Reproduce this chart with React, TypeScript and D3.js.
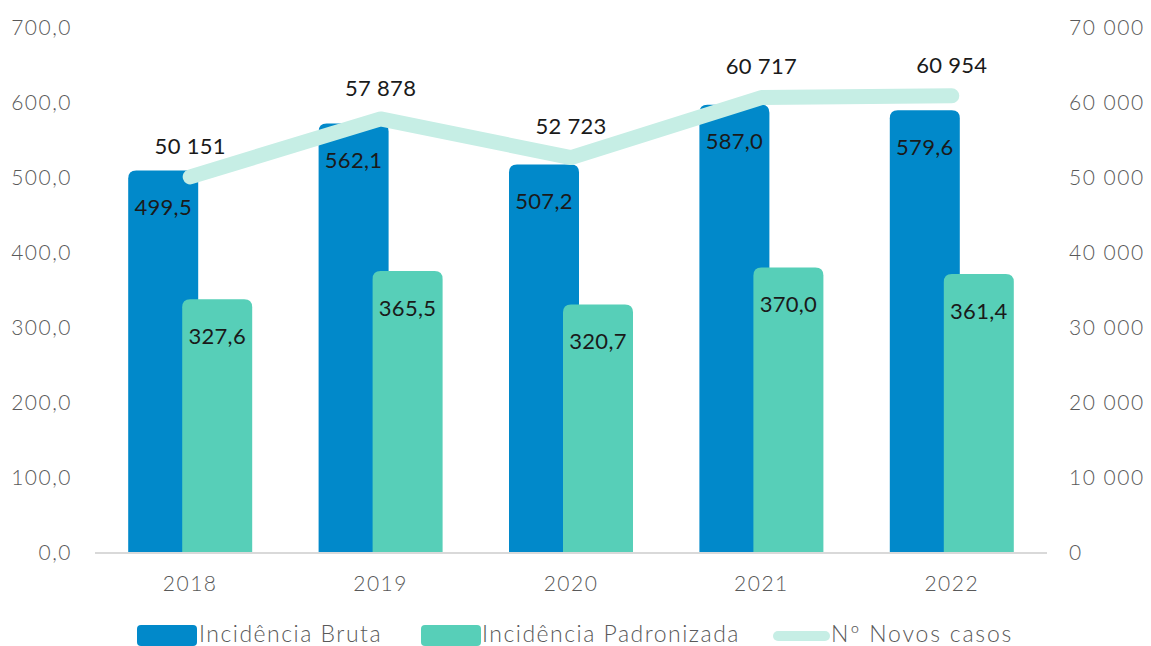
import React from "react";
import * as d3 from "d3";

const years = ["2018", "2019", "2020", "2021", "2022"];
const brutaValues = [499.5, 562.1, 507.2, 587.0, 579.6];
const padronizadaValues = [327.6, 365.5, 320.7, 370.0, 361.4];
const novosCasos = [50151, 57878, 52723, 60717, 60954];
const leftTicks = [0, 100, 200, 300, 400, 500, 600, 700];
const rightTicks = [0, 10000, 20000, 30000, 40000, 50000, 60000, 70000];
const legendLabels = ["Incidência Bruta", "Incidência Padronizada", "Nº Novos casos"];

const W = 1151;
const H = 646;
const FONT = "Lato, 'Open Sans', sans-serif";
const BLUE = "#0189CA";
const GREEN = "#57CFB8";
const LINE = "#C6EEE5";
const GRAY = "#595959";

const fmtDec = (v: number) => v.toFixed(1).replace(".", ",");
const fmtThousands = (v: number) =>
  String(Math.round(v)).replace(/\B(?=(\d{3})+(?!\d))/g, " ");

function roundedTopPath(x: number, y: number, w: number, h: number, r: number) {
  return `M${x},${y + h}V${y + r}Q${x},${y} ${x + r},${y}H${x + w - r}Q${x + w},${y} ${x + w},${y + r}V${y + h}Z`;
}

export default function App() {
  const plotLeft = 95;
  const plotRight = 1047;
  const yTop = 28;
  const yBottom = 553;

  const x = d3.scaleBand<string>().domain(years).range([plotLeft, plotRight]).padding(0);
  const yL = d3.scaleLinear().domain([0, 700]).range([yBottom, yTop]);
  const yR = d3.scaleLinear().domain([0, 70000]).range([yBottom, yTop]);
  const center = (yr: string) => (x(yr) as number) + x.bandwidth() / 2;

  const barW = 70;
  const blueOff = -62;
  const greenOff = -8;
  const capExtra = 8;
  const radius = 8;

  const line = d3
    .line<number>()
    .x((_, i) => center(years[i]))
    .y((d) => yR(d));

  const gray = { fontFamily: FONT, fontSize: 21, fill: GRAY, fontWeight: 300, letterSpacing: 1.5 } as const;
  const dark = { fontFamily: FONT, fontSize: 22, fill: "#1a1a1a", fontWeight: 400, letterSpacing: 0.3 } as const;

  return (
    <svg width={W} height={H} style={{ position: "absolute", left: 0, top: 0, background: "#fff" }}>
      {leftTicks.map((t) => (
        <text key={"l" + t} x={72} y={yL(t)} dy="0.35em" textAnchor="end" {...gray}>
          {fmtDec(t)}
        </text>
      ))}
      {rightTicks.map((t) => (
        <text key={"r" + t} x={1069} y={yR(t)} dy="0.35em" textAnchor="start" {...gray}>
          {fmtThousands(t)}
        </text>
      ))}
      {years.map((yr, i) => {
        const bx = center(yr) + blueOff;
        const by = yL(brutaValues[i]) - capExtra;
        return <path key={"b" + yr} d={roundedTopPath(bx, by, barW, yBottom - by, radius)} fill={BLUE} />;
      })}
      {years.map((yr, i) => {
        const bx = center(yr) + greenOff;
        const by = yL(padronizadaValues[i]) - capExtra;
        return <path key={"g" + yr} d={roundedTopPath(bx, by, barW, yBottom - by, radius)} fill={GREEN} />;
      })}
      <line x1={plotLeft} x2={plotRight} y1={yBottom} y2={yBottom} stroke="#D9D9D9" strokeWidth={2} />
      <path d={line(novosCasos) || ""} fill="none" stroke={LINE} strokeWidth={15} strokeLinecap="round" strokeLinejoin="round" />
      {years.map((yr, i) => (
        <text key={"bl" + yr} x={center(yr) + blueOff + barW / 2} y={yL(brutaValues[i]) + 29} dy="0.35em" textAnchor="middle" {...dark}>
          {fmtDec(brutaValues[i])}
        </text>
      ))}
      {years.map((yr, i) => (
        <text key={"gl" + yr} x={center(yr) + greenOff + barW / 2} y={yL(padronizadaValues[i]) + 29} dy="0.35em" textAnchor="middle" {...dark}>
          {fmtDec(padronizadaValues[i])}
        </text>
      ))}
      {years.map((yr, i) => (
        <text key={"ll" + yr} x={center(yr)} y={yR(novosCasos[i]) - 31} dy="0.35em" textAnchor="middle" {...dark}>
          {fmtThousands(novosCasos[i])}
        </text>
      ))}
      {years.map((yr) => (
        <text key={"x" + yr} x={center(yr)} y={584} dy="0.35em" textAnchor="middle" {...gray}>
          {yr}
        </text>
      ))}
      <rect x={137} y={625} width={60} height={21} rx={4} fill={BLUE} />
      <text x={199} y={642} {...gray} fontSize={23} letterSpacing={1.5}>{legendLabels[0]}</text>
      <rect x={421} y={625} width={60} height={21} rx={4} fill={GREEN} />
      <text x={482} y={642} {...gray} fontSize={23} letterSpacing={1.5}>{legendLabels[1]}</text>
      <line x1={778} x2={825} y1={636} y2={636} stroke={LINE} strokeWidth={10} strokeLinecap="round" />
      <text x={831} y={642} {...gray} fontSize={23} letterSpacing={1.8}>{legendLabels[2]}</text>
    </svg>
  );
}
